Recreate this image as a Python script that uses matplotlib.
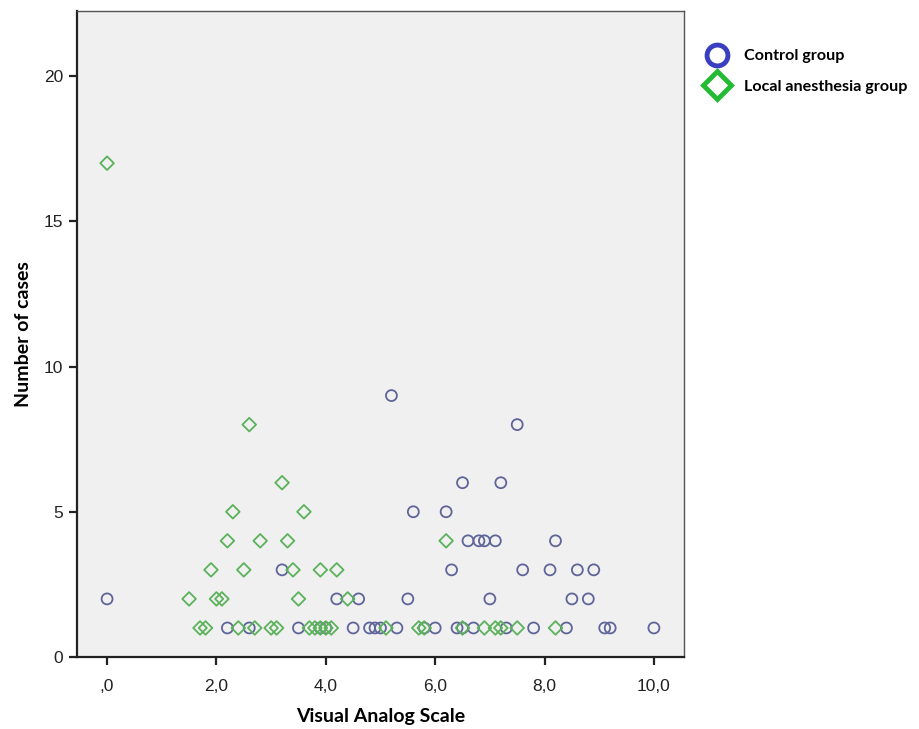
import matplotlib
matplotlib.use("Agg")
import matplotlib.pyplot as plt
from matplotlib.lines import Line2D

# Control group (VAS, number of cases)
control_vas = [0.0, 2.2, 2.6, 3.2, 3.5, 3.9, 4.0, 4.2, 4.5, 4.6, 4.8, 4.9, 5.0,
               5.2, 5.3, 5.5, 5.6, 5.8, 6.0, 6.2, 6.3, 6.4, 6.5, 6.5, 6.6, 6.7,
               6.8, 6.9, 7.0, 7.1, 7.2, 7.3, 7.5, 7.6, 7.8, 8.1, 8.2, 8.4, 8.5,
               8.6, 8.8, 8.9, 9.1, 9.2, 10.0]
control_cases = [2, 1, 1, 3, 1, 1, 1, 2, 1, 2, 1, 1, 1,
                 9, 1, 2, 5, 1, 1, 5, 3, 1, 6, 1, 4, 1,
                 4, 4, 2, 4, 6, 1, 8, 3, 1, 3, 4, 1, 2,
                 3, 2, 3, 1, 1, 1]

# Local anesthesia group
local_vas = [0.0, 1.5, 1.7, 1.8, 1.9, 2.0, 2.1, 2.2, 2.3, 2.4, 2.5, 2.6, 2.7,
             2.8, 3.0, 3.1, 3.2, 3.3, 3.4, 3.5, 3.6, 3.7, 3.8, 3.9, 3.9, 4.0,
             4.1, 4.2, 4.4, 5.1, 5.7, 5.8, 6.2, 6.5, 6.9, 7.1, 7.2, 7.5, 8.2]
local_cases = [17, 2, 1, 1, 3, 2, 2, 4, 5, 1, 3, 8, 1,
               4, 1, 1, 6, 4, 3, 2, 5, 1, 1, 3, 1, 1,
               1, 3, 2, 1, 1, 1, 4, 1, 1, 1, 1, 1, 1]

x_ticks = [0, 2, 4, 6, 8, 10]
x_tick_labels = [",0", "2,0", "4,0", "6,0", "8,0", "10,0"]
y_ticks = [0, 5, 10, 15, 20]

fig = plt.figure(figsize=(9.19, 7.29), dpi=100)
ax = fig.add_axes([77/919, 72/729, (684-77)/919, (657-11)/729])
ax.set_facecolor("#f0f0f0")

circ_col = "#5f6499"
diam_col = "#5bb25b"

ax.scatter(control_vas, control_cases, s=62, marker="o", facecolors="none",
           edgecolors=circ_col, linewidths=1.3, zorder=3)
ax.scatter(local_vas, local_cases, s=48, marker="D", facecolors="none",
           edgecolors=diam_col, linewidths=1.3, zorder=3)

ax.set_xlim(-0.55, 10.55)
ax.set_ylim(0, 22.24)
ax.set_xticks(x_ticks)
ax.set_xticklabels(x_tick_labels)
ax.set_yticks(y_ticks)

for sp in ax.spines.values():
    sp.set_color("#555555")
    sp.set_linewidth(1.0)
ax.spines["left"].set_color("#222222")
ax.spines["bottom"].set_color("#222222")
ax.spines["left"].set_linewidth(1.6)
ax.spines["bottom"].set_linewidth(1.6)

ax.tick_params(axis="both", direction="out", length=6, width=1.6, colors="#222222",
               labelsize=12.5, pad=4)
for lab in ax.get_xticklabels() + ax.get_yticklabels():
    lab.set_family("Liberation Sans")
ax.tick_params(axis="x", pad=10)

ax.set_xlabel("Visual Analog Scale", fontsize=14, fontweight="bold",
              family="Lato", labelpad=10)
ax.set_ylabel("Number of cases", fontsize=14, fontweight="bold",
              family="Lato", labelpad=8)

handles = [
    Line2D([], [], marker="o", linestyle="none", markersize=15,
           markerfacecolor="none", markeredgecolor="#3a3ec0", markeredgewidth=3.5,
           label="Control group"),
    Line2D([], [], marker="D", linestyle="none", markersize=14,
           markerfacecolor="none", markeredgecolor="#22bb33", markeredgewidth=3.5,
           label="Local anesthesia group"),
]
leg = fig.legend(handles=handles, loc="upper left",
                 bbox_to_anchor=(697/919, 1 - 41/729), frameon=False,
                 handletextpad=0.9, labelspacing=1.0, borderpad=0,
                 handlelength=1.5,
                 prop={"family": "Lato", "weight": "bold", "size": 11.6})

fig.savefig("out.png", dpi=100)
